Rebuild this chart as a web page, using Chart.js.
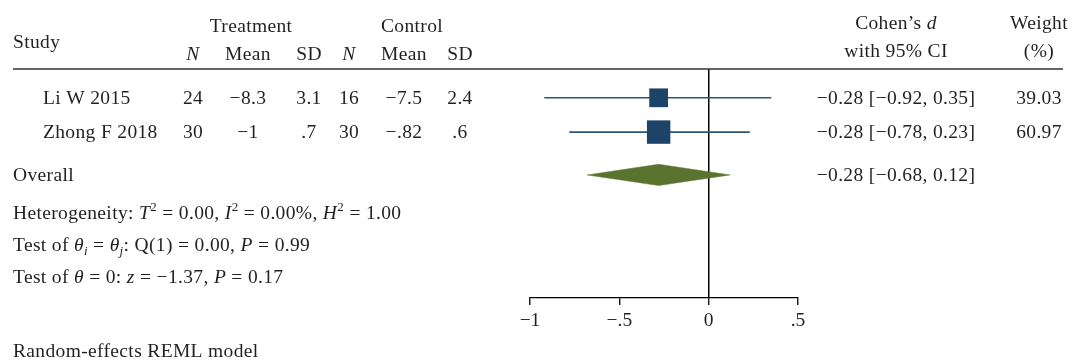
<!DOCTYPE html>
<html>
<head>
<meta charset="utf-8">
<title>Forest plot – Cohen's d</title>
<script src="https://cdn.jsdelivr.net/npm/chart.js@4/dist/chart.umd.min.js"></script>
<style>
  html, body { margin: 0; padding: 0; background: #ffffff; }
  canvas { display: block; }
</style>
</head>
<body>
<canvas id="forest" width="1076" height="362"></canvas>
<script>
// ---- study-level data ----
const studies   = ['Li W 2015', 'Zhong F 2018'];
const nTreat    = [24, 30];
const meanTreat = [-8.3, -1];
const sdTreat   = [3.1, 0.7];
const nCtrl     = [16, 30];
const meanCtrl  = [-7.5, -0.82];
const sdCtrl    = [2.4, 0.6];
const effect    = [-0.28, -0.28];
const ciLow     = [-0.92, -0.78];
const ciHigh    = [0.35, 0.23];
const weight    = [39.03, 60.97];

// ---- pooled estimate ----
const overallEffect = -0.28;
const overallLow    = -0.68;
const overallHigh   = 0.12;

// ---- heterogeneity and tests ----
const tau2 = 0.00, iSq = 0.00, hSq = 1.00;
const qStat = 0.00, qDf = 1, qP = 0.99;
const zStat = -1.37, zP = 0.17;

// ---- axis ----
const xTicks = [-1, -0.5, 0, 0.5];

// ---- styling / layout ----
const FONT = '"Liberation Serif", "Times New Roman", serif';
const SIZE = 19.5;
const SPACING = '0.35px';
const TEXT = '#231f20';
const BLUE = '#1d4468';
const LINE_BLUE = '#2c5678';
const GREEN = '#5a7430';
const ROW_Y = [0, 1];          // y positions of study rows
const OVERALL_Y = 2.25;        // y position of pooled row
const DIAMOND_HALF = 0.31;     // half height of pooled diamond

const minus = s => s.replace(/-/g, '\u2212');
// Stata-like short number format: drop the leading zero
const shortNum = v => minus(String(v).replace(/^(-?)0\./, '$1.'));
const fix2 = v => minus(v.toFixed(2));

function fontFor(r) {
  const size = r.s ? Math.round(SIZE * 0.68) : SIZE;
  return (r.i ? 'italic ' : '') + size + 'px ' + FONT;
}
function runsWidth(ctx, runs) {
  let w = 0;
  runs.forEach(r => { ctx.font = fontFor(r); w += ctx.measureText(r.t).width; });
  return w;
}
function drawRuns(ctx, runs, x, baseline, align) {
  if (typeof runs === 'string') runs = [{ t: runs }];
  const w = runsWidth(ctx, runs);
  let cx = align === 'center' ? x - w / 2 : align === 'right' ? x - w : x;
  ctx.textAlign = 'left';
  ctx.textBaseline = 'alphabetic';
  runs.forEach(r => {
    ctx.font = fontFor(r);
    const dy = r.s === 'sup' ? -SIZE * 0.4 : r.s === 'sub' ? SIZE * 0.22 : 0;
    ctx.fillText(r.t, cx, baseline + dy);
    cx += ctx.measureText(r.t).width;
  });
}

const tablePlugin = {
  id: 'tableText',
  afterDraw(chart) {
    const ctx = chart.ctx;
    const ys = chart.scales.y;
    const top = chart.chartArea.top;
    ctx.save();
    if ('letterSpacing' in ctx) ctx.letterSpacing = SPACING;

    // header rule
    ctx.strokeStyle = '#333333';
    ctx.lineWidth = 1.6;
    ctx.beginPath();
    ctx.moveTo(13, top);
    ctx.lineTo(1063, top);
    ctx.stroke();

    ctx.fillStyle = TEXT;
    const colN1 = 193, colM1 = 248, colS1 = 309;
    const colN2 = 349, colM2 = 404, colS2 = 460;
    const colCI = 896, colW = 1039;

    // column headers
    drawRuns(ctx, 'Study', 13, 48, 'left');
    drawRuns(ctx, 'Treatment', 251, 32, 'center');
    drawRuns(ctx, 'Control', 412, 32, 'center');
    drawRuns(ctx, [{ t: 'N', i: 1 }], colN1, 60, 'center');
    drawRuns(ctx, 'Mean', colM1, 60, 'center');
    drawRuns(ctx, 'SD', colS1, 60, 'center');
    drawRuns(ctx, [{ t: 'N', i: 1 }], colN2, 60, 'center');
    drawRuns(ctx, 'Mean', colM2, 60, 'center');
    drawRuns(ctx, 'SD', colS2, 60, 'center');
    drawRuns(ctx, [{ t: 'Cohen\u2019s ' }, { t: 'd', i: 1 }], colCI, 29, 'center');
    drawRuns(ctx, 'with 95% CI', colCI, 57, 'center');
    drawRuns(ctx, 'Weight', colW, 29, 'center');
    drawRuns(ctx, '(%)', colW, 57, 'center');

    // study rows
    studies.forEach((name, k) => {
      const b = ys.getPixelForValue(ROW_Y[k]) + 6;
      drawRuns(ctx, name, 43, b, 'left');
      drawRuns(ctx, String(nTreat[k]), colN1, b, 'center');
      drawRuns(ctx, shortNum(meanTreat[k]), colM1, b, 'center');
      drawRuns(ctx, shortNum(sdTreat[k]), colS1, b, 'center');
      drawRuns(ctx, String(nCtrl[k]), colN2, b, 'center');
      drawRuns(ctx, shortNum(meanCtrl[k]), colM2, b, 'center');
      drawRuns(ctx, shortNum(sdCtrl[k]), colS2, b, 'center');
      drawRuns(ctx, fix2(effect[k]) + ' [' + fix2(ciLow[k]) + ', ' + fix2(ciHigh[k]) + ']', colCI, b, 'center');
      drawRuns(ctx, weight[k].toFixed(2), colW, b, 'center');
    });

    // pooled row
    const bo = ys.getPixelForValue(OVERALL_Y) + 6;
    drawRuns(ctx, 'Overall', 13, bo, 'left');
    drawRuns(ctx, fix2(overallEffect) + ' [' + fix2(overallLow) + ', ' + fix2(overallHigh) + ']', colCI, bo, 'center');

    // heterogeneity and tests
    drawRuns(ctx, [
      { t: 'Heterogeneity: ' }, { t: 'T', i: 1 }, { t: '2', s: 'sup' },
      { t: ' = ' + fix2(tau2) + ', ' }, { t: 'I', i: 1 }, { t: '2', s: 'sup' },
      { t: ' = ' + fix2(iSq) + '%, ' }, { t: 'H', i: 1 }, { t: '2', s: 'sup' },
      { t: ' = ' + fix2(hSq) }
    ], 13, 219, 'left');
    drawRuns(ctx, [
      { t: 'Test of ' }, { t: '\u03b8', i: 1 }, { t: 'i', i: 1, s: 'sub' },
      { t: ' = ' }, { t: '\u03b8', i: 1 }, { t: 'j', i: 1, s: 'sub' },
      { t: ': Q(' + qDf + ') = ' + fix2(qStat) + ', ' }, { t: 'P', i: 1 },
      { t: ' = ' + fix2(qP) }
    ], 13, 251, 'left');
    drawRuns(ctx, [
      { t: 'Test of ' }, { t: '\u03b8', i: 1 }, { t: ' = 0: ' }, { t: 'z', i: 1 },
      { t: ' = ' + fix2(zStat) + ', ' }, { t: 'P', i: 1 }, { t: ' = ' + fix2(zP) }
    ], 13, 283, 'left');

    drawRuns(ctx, 'Random-effects REML model', 13, 357, 'left');
    ctx.restore();
  }
};

// ---- datasets ----
const squares = {
  label: 'Study estimates',
  data: effect.map((v, k) => ({ x: v, y: ROW_Y[k] })),
  pointStyle: 'rect',
  // marker area proportional to weight
  pointRadius: ctx => 3.0 * Math.sqrt(weight[ctx.dataIndex]) / Math.SQRT2,
  pointBackgroundColor: BLUE,
  pointBorderWidth: 0,
  showLine: false,
  order: 0
};
const ciLines = studies.map((s, k) => ({
  label: s + ' CI',
  data: [{ x: ciLow[k], y: ROW_Y[k] }, { x: ciHigh[k], y: ROW_Y[k] }],
  showLine: true,
  borderColor: LINE_BLUE,
  borderWidth: 1.6,
  pointRadius: 0,
  order: 1
}));
const diamond = {
  label: 'Overall',
  data: [
    { x: overallLow, y: OVERALL_Y },
    { x: overallEffect, y: OVERALL_Y - DIAMOND_HALF },
    { x: overallHigh, y: OVERALL_Y },
    { x: overallEffect, y: OVERALL_Y + DIAMOND_HALF },
    { x: overallLow, y: OVERALL_Y }
  ],
  showLine: true,
  fill: 'shape',
  backgroundColor: GREEN,
  borderColor: GREEN,
  borderWidth: 0.5,
  pointRadius: 0,
  tension: 0,
  order: 2
};

new Chart(document.getElementById('forest'), {
  type: 'scatter',
  data: { datasets: [squares, ...ciLines, diamond] },
  options: {
    responsive: false,
    devicePixelRatio: 1,
    animation: false,
    layout: { padding: { left: 530, right: 278, top: 69, bottom: 24 } },
    plugins: { legend: { display: false }, tooltip: { enabled: false } },
    scales: {
      x: {
        type: 'linear',
        min: -1,
        max: 0.5,
        afterBuildTicks: scale => { scale.ticks = xTicks.map(v => ({ value: v })); },
        afterFit: scale => { scale.height = 40; },
        ticks: {
          autoSkip: false,
          maxRotation: 0,
          padding: 4,
          color: TEXT,
          font: { family: FONT, size: SIZE },
          callback: v => shortNum(v)
        },
        grid: {
          drawOnChartArea: true,
          drawTicks: true,
          tickLength: 7,
          tickWidth: 1.3,
          tickColor: '#000000',
          lineWidth: 1.5,
          color: c => (c.tick && c.tick.value === 0 ? '#000000' : 'rgba(0,0,0,0)')
        },
        border: { display: true, color: '#000000', width: 1.3 }
      },
      y: {
        type: 'linear',
        display: false,
        reverse: true,
        min: -0.84,
        max: 5.84
      }
    }
  },
  plugins: [tablePlugin]
});
</script>
</body>
</html>
